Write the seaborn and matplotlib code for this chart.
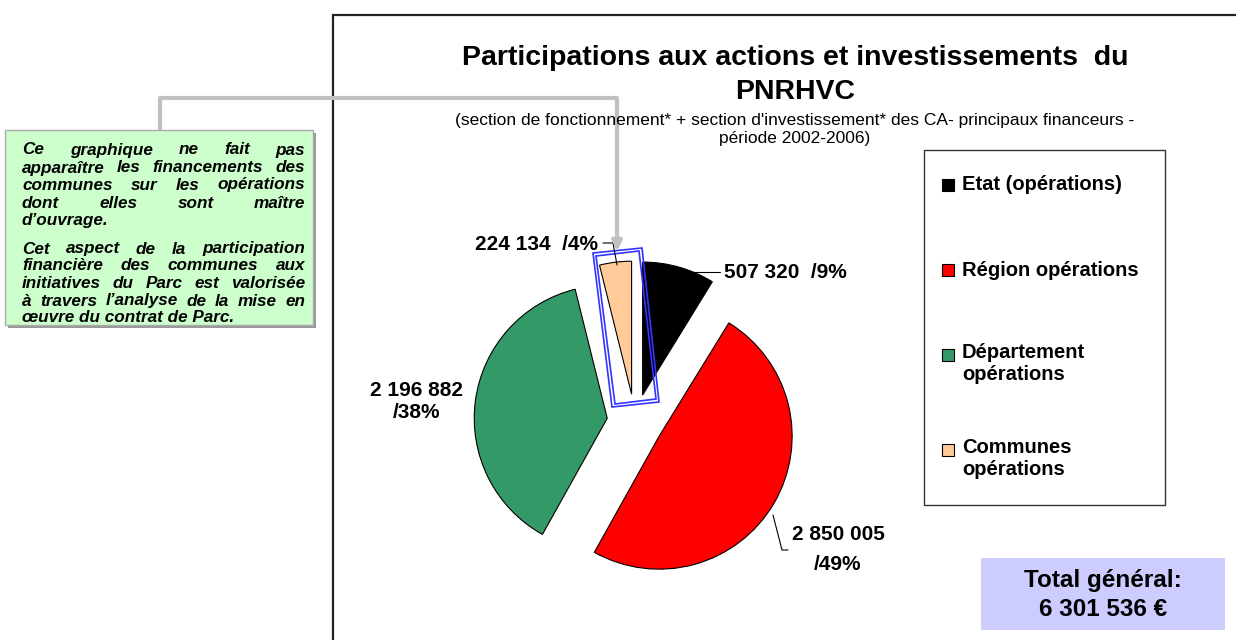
import matplotlib.pyplot as plt
import matplotlib.patches as mpatches
import numpy as np
import seaborn as sns

sns.set_theme(style="white")
plt.rcParams['font.family'] = ['Liberation Sans', 'DejaVu Sans']
plt.rcParams['text.color'] = 'black'

# Data
categories = ["Etat (opérations)", "Région opérations",
              "Département\nopérations", "Communes\nopérations"]
values = [507320, 2850005, 2196882, 224134]
colors = ["#000000", "#FF0000", "#339966", "#FFCC99"]
total_general = 6301536

W, H = 1236, 640


def fmt(v):
    return f"{v:,}".replace(",", " ")


def py(y):
    # pixel row (from top) -> data y
    return H - y


fig = plt.figure(figsize=(W / 100, H / 100), dpi=100)
ax = fig.add_axes([0, 0, 1, 1])

# Pie (axes units are pixels, explode is absolute)
wedges, _ = ax.pie(values, colors=colors, startangle=90, counterclock=False,
                   center=(635, py(422)), radius=133, explode=[28] * 4,
                   wedgeprops=dict(edgecolor='black', linewidth=0.8))
ax.set_xlim(0, W)
ax.set_ylim(0, H)
ax.set_aspect('equal')
ax.axis('off')

pcts = [round(v / sum(values) * 100) for v in values]

# Chart frame
ax.add_patch(mpatches.Rectangle((333, py(700)), 1000, 685, fill=False,
                                edgecolor='#222222', linewidth=1.6))

# Title
ax.text(795, py(58), "Participations aux actions et investissements  du",
        ha='center', va='center', fontsize=20.5, fontweight='bold')
ax.text(795, py(92), "PNRHVC", ha='center', va='center', fontsize=20.5, fontweight='bold')
ax.text(795, py(121), "(section de fonctionnement* + section d'investissement* des CA- principaux financeurs -",
        ha='center', va='center', fontsize=12.5)
ax.text(795, py(139), "période 2002-2006)", ha='center', va='center', fontsize=12.5)

# Pie labels with leader lines
lab_kw = dict(fontsize=15, fontweight='bold', va='center')
ax.plot([688, 720], [py(272), py(272)], color='black', lw=0.8)
ax.text(724, py(272), f"{fmt(values[0])}  /{pcts[0]}%", ha='left', **lab_kw)

ax.plot([773, 782, 788], [py(515), py(550), py(550)], color='black', lw=0.8)
ax.text(838, py(535), fmt(values[1]), ha='center', **lab_kw)
ax.text(838, py(565), f"/{pcts[1]}%", ha='center', **lab_kw)

ax.text(417, py(390), fmt(values[2]), ha='center', **lab_kw)
ax.text(417, py(413), f"/{pcts[2]}%", ha='center', **lab_kw)

ax.plot([603, 613, 617], [py(243), py(243), py(265)], color='black', lw=0.8)
ax.text(598, py(245), f"{fmt(values[3])}  /{pcts[3]}%", ha='right', **lab_kw)

# Blue highlight frame around the Communes slice
outer = np.array([(593, 253), (642, 248), (659, 402), (612, 407)], dtype=float)
inner = np.array([(596, 256), (639, 251), (656, 399), (615, 404)], dtype=float)
for pts in (outer, inner):
    ax.add_patch(mpatches.Polygon(np.c_[pts[:, 0], H - pts[:, 1]], closed=True,
                                  fill=False, edgecolor='#3333FF', linewidth=1.2))

# Legend
ax.add_patch(mpatches.Rectangle((924, py(505)), 241, 355, fill=False,
                                edgecolor='#333333', linewidth=1))
leg_y = [185, 270, 355, 450]
for lab, col, yy in zip(categories, colors, leg_y):
    ax.add_patch(mpatches.Rectangle((942, py(yy) - 6), 12, 12, facecolor=col,
                                    edgecolor='black', linewidth=0.8))
    if '\n' in lab:
        ax.text(962, py(yy) + 12, lab, ha='left', va='top', fontsize=14.5,
                fontweight='bold', linespacing=1.2)
    else:
        ax.text(962, py(yy), lab, ha='left', va='center', fontsize=14.5,
                fontweight='bold')

# Total box
ax.add_patch(mpatches.Rectangle((981, py(630)), 244, 72, facecolor='#CCCCFF',
                                edgecolor='none'))
ax.text(1103, py(595), f"Total général:\n{fmt(total_general)} €", ha='center',
        va='center', fontsize=17.5, fontweight='bold', linespacing=1.3)

# Note box with connector
ax.plot([160, 160, 617, 617], [py(130), py(98), py(98), py(240)],
        color='#C0C0C0', lw=3, solid_capstyle='butt')
ax.annotate("", xy=(617, py(254)), xytext=(617, py(236)),
            arrowprops=dict(arrowstyle='-|>', color='#C0C0C0', lw=3,
                            mutation_scale=14))
ax.add_patch(mpatches.Rectangle((8, py(328)), 308, 195, facecolor='#999999',
                                edgecolor='none'))
ax.add_patch(mpatches.Rectangle((5, py(325)), 308, 195, facecolor='#CCFFCC',
                                edgecolor='#AAAAAA', linewidth=1))

note_lines = [
    ("Ce graphique ne fait pas", True),
    ("apparaître les financements des", True),
    ("communes sur les opérations", True),
    ("dont elles sont maître", True),
    ("d’ouvrage.", False),
    ("Cet aspect de la participation", True),
    ("financière des communes aux", True),
    ("initiatives du Parc est valorisée", True),
    ("à travers l’analyse de la mise en", True),
    ("œuvre du contrat de Parc.", False),
]
note_y = [150, 168, 185, 203, 221, 249, 266, 284, 301, 318]
note_kw = dict(fontsize=12.3, fontweight='bold', fontstyle='italic', va='center')
x0, x1 = 22, 305
fig.canvas.draw()
renderer = fig.canvas.get_renderer()
for (line, justify), yy in zip(note_lines, note_y):
    words = line.split()
    if not justify or len(words) == 1:
        ax.text(x0, py(yy), line, ha='left', **note_kw)
        continue
    texts = [ax.text(0, py(yy), w, ha='left', **note_kw) for w in words]
    widths = [t.get_window_extent(renderer).width for t in texts]
    gap = (x1 - x0 - sum(widths)) / (len(words) - 1)
    x = x0
    for t, w in zip(texts, widths):
        t.set_x(x)
        x += w + gap

fig.savefig("out.png", dpi=100)
